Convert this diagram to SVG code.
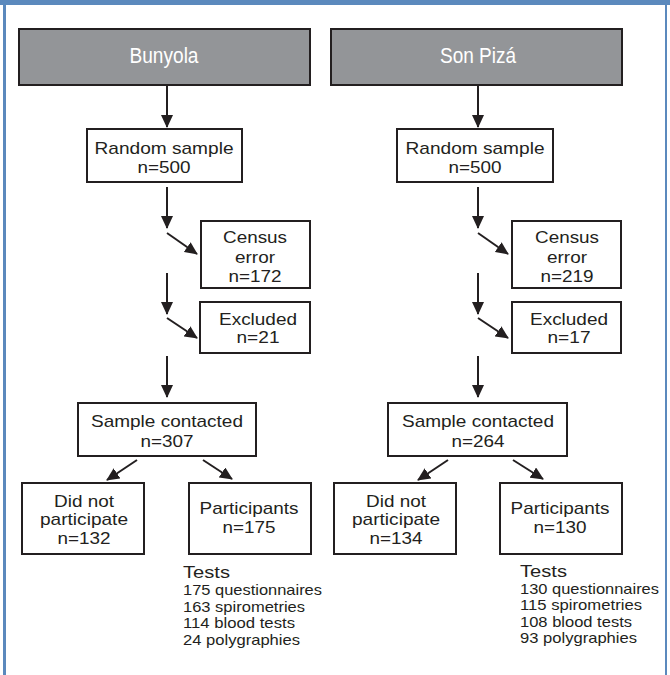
<svg xmlns="http://www.w3.org/2000/svg" width="670" height="675" viewBox="0 0 670 675">
<defs>
<style>
.box{fill:#ffffff;stroke:#231f20;stroke-width:2}
.hdr{fill:#939598;stroke:#231f20;stroke-width:2}
.t{font-family:"Liberation Sans",Arial,sans-serif;font-size:17px;fill:#231f20;text-anchor:middle}
.h{font-family:"Liberation Sans",Arial,sans-serif;font-size:22px;fill:#ffffff;text-anchor:middle}
.l{font-family:"Liberation Sans",Arial,sans-serif;font-size:14.5px;fill:#231f20}
.lt{font-family:"Liberation Sans",Arial,sans-serif;font-size:17px;fill:#231f20}
.c{stroke:#231f20;stroke-width:2;fill:none;marker-end:url(#ah)}
</style>
<marker id="ah" markerUnits="userSpaceOnUse" viewBox="0 0 13 12" refX="12" refY="6" markerWidth="13" markerHeight="12" orient="auto">
<path d="M0,0 L13,6 L0,12 z" fill="#231f20"/>
</marker>
</defs>
<g id="frame">
<rect x="0" y="0" width="670" height="5" fill="#5b89bd"/>
<rect x="3" y="0" width="3" height="675" fill="#5b89bd"/>
<rect x="665" y="0" width="2" height="675" fill="#5b89bd"/>
</g>
<g id="connectors">
<line class="c" x1="167" y1="85" x2="167" y2="127"/>
<line class="c" x1="167" y1="187" x2="167" y2="228"/>
<line class="c" x1="167" y1="233" x2="197" y2="254"/>
<line class="c" x1="167" y1="273" x2="167" y2="314"/>
<line class="c" x1="167" y1="318" x2="197" y2="338"/>
<line class="c" x1="167" y1="356" x2="167" y2="397"/>
<line class="c" x1="137" y1="460" x2="107" y2="480"/>
<line class="c" x1="203" y1="460" x2="232" y2="479"/>
<line class="c" x1="478" y1="85" x2="478" y2="127"/>
<line class="c" x1="478" y1="187" x2="478" y2="228"/>
<line class="c" x1="478" y1="233" x2="508" y2="254"/>
<line class="c" x1="478" y1="273" x2="478" y2="314"/>
<line class="c" x1="478" y1="318" x2="508" y2="338"/>
<line class="c" x1="478" y1="356" x2="478" y2="397"/>
<line class="c" x1="448" y1="460" x2="418" y2="480"/>
<line class="c" x1="513" y1="460" x2="543" y2="479"/>
</g>
<g id="bunyola">
<rect class="hdr" x="19" y="29" width="291" height="56"/>
<text class="h" x="164" y="63" textLength="69" lengthAdjust="spacingAndGlyphs">Bunyola</text>
</g>
<g id="sonpiza">
<rect class="hdr" x="331" y="29" width="291" height="56"/>
<text class="h" x="478" y="63" textLength="76" lengthAdjust="spacingAndGlyphs">Son Pizá</text>
</g>
<g id="random-b">
<rect class="box" x="87" y="129" width="155" height="53"/>
<text class="t" x="164" y="154" textLength="139" lengthAdjust="spacingAndGlyphs">Random sample</text>
<text class="t" x="164" y="173" textLength="53" lengthAdjust="spacingAndGlyphs">n=500</text>
</g>
<g id="random-s">
<rect class="box" x="397" y="129" width="156" height="53"/>
<text class="t" x="475" y="154" textLength="139" lengthAdjust="spacingAndGlyphs">Random sample</text>
<text class="t" x="475" y="173" textLength="53" lengthAdjust="spacingAndGlyphs">n=500</text>
</g>
<g id="census-b">
<rect class="box" x="201" y="221" width="109" height="67"/>
<text class="t" x="255" y="243" textLength="64" lengthAdjust="spacingAndGlyphs">Census</text>
<text class="t" x="255" y="263" textLength="40" lengthAdjust="spacingAndGlyphs">error</text>
<text class="t" x="255" y="282" textLength="53" lengthAdjust="spacingAndGlyphs">n=172</text>
</g>
<g id="census-s">
<rect class="box" x="512" y="221" width="109" height="67"/>
<text class="t" x="567" y="243" textLength="64" lengthAdjust="spacingAndGlyphs">Census</text>
<text class="t" x="567" y="263" textLength="40" lengthAdjust="spacingAndGlyphs">error</text>
<text class="t" x="567" y="282" textLength="53" lengthAdjust="spacingAndGlyphs">n=219</text>
</g>
<g id="excluded-b">
<rect class="box" x="200" y="302" width="110" height="51"/>
<text class="t" x="258" y="325" textLength="78" lengthAdjust="spacingAndGlyphs">Excluded</text>
<text class="t" x="258" y="343" textLength="43" lengthAdjust="spacingAndGlyphs">n=21</text>
</g>
<g id="excluded-s">
<rect class="box" x="512" y="302" width="109" height="51"/>
<text class="t" x="569" y="325" textLength="78" lengthAdjust="spacingAndGlyphs">Excluded</text>
<text class="t" x="569" y="343" textLength="43" lengthAdjust="spacingAndGlyphs">n=17</text>
</g>
<g id="contacted-b">
<rect class="box" x="78" y="403" width="178" height="53"/>
<text class="t" x="167" y="427" textLength="152" lengthAdjust="spacingAndGlyphs">Sample contacted</text>
<text class="t" x="167" y="447" textLength="53" lengthAdjust="spacingAndGlyphs">n=307</text>
</g>
<g id="contacted-s">
<rect class="box" x="388" y="403" width="179" height="53"/>
<text class="t" x="478" y="427" textLength="152" lengthAdjust="spacingAndGlyphs">Sample contacted</text>
<text class="t" x="478" y="447" textLength="53" lengthAdjust="spacingAndGlyphs">n=264</text>
</g>
<g id="notpart-b">
<rect class="box" x="22" y="483" width="122" height="71"/>
<text class="t" x="84" y="507" textLength="60" lengthAdjust="spacingAndGlyphs">Did not</text>
<text class="t" x="84" y="525" textLength="88" lengthAdjust="spacingAndGlyphs">participate</text>
<text class="t" x="84" y="544" textLength="53" lengthAdjust="spacingAndGlyphs">n=132</text>
</g>
<g id="notpart-s">
<rect class="box" x="334" y="483" width="122" height="71"/>
<text class="t" x="396" y="507" textLength="60" lengthAdjust="spacingAndGlyphs">Did not</text>
<text class="t" x="396" y="525" textLength="88" lengthAdjust="spacingAndGlyphs">participate</text>
<text class="t" x="396" y="544" textLength="53" lengthAdjust="spacingAndGlyphs">n=134</text>
</g>
<g id="part-b">
<rect class="box" x="189" y="483" width="122" height="71"/>
<text class="t" x="249" y="514" textLength="99" lengthAdjust="spacingAndGlyphs">Participants</text>
<text class="t" x="249" y="533" textLength="53" lengthAdjust="spacingAndGlyphs">n=175</text>
</g>
<g id="part-s">
<rect class="box" x="500" y="483" width="122" height="71"/>
<text class="t" x="560" y="514" textLength="99" lengthAdjust="spacingAndGlyphs">Participants</text>
<text class="t" x="560" y="533" textLength="53" lengthAdjust="spacingAndGlyphs">n=130</text>
</g>
<g id="tests-b">
<text class="lt" x="183" y="578" textLength="47" lengthAdjust="spacingAndGlyphs">Tests</text>
<text class="l" x="183" y="595" textLength="139" lengthAdjust="spacingAndGlyphs">175 questionnaires</text>
<text class="l" x="183" y="612" textLength="122" lengthAdjust="spacingAndGlyphs">163 spirometries</text>
<text class="l" x="183" y="628" textLength="112" lengthAdjust="spacingAndGlyphs">114 blood tests</text>
<text class="l" x="183" y="645" textLength="117" lengthAdjust="spacingAndGlyphs">24 polygraphies</text>
</g>
<g id="tests-s">
<text class="lt" x="520" y="577" textLength="47" lengthAdjust="spacingAndGlyphs">Tests</text>
<text class="l" x="520" y="594" textLength="139" lengthAdjust="spacingAndGlyphs">130 questionnaires</text>
<text class="l" x="520" y="610" textLength="122" lengthAdjust="spacingAndGlyphs">115 spirometries</text>
<text class="l" x="520" y="627" textLength="112" lengthAdjust="spacingAndGlyphs">108 blood tests</text>
<text class="l" x="520" y="643" textLength="117" lengthAdjust="spacingAndGlyphs">93 polygraphies</text>
</g>
</svg>
